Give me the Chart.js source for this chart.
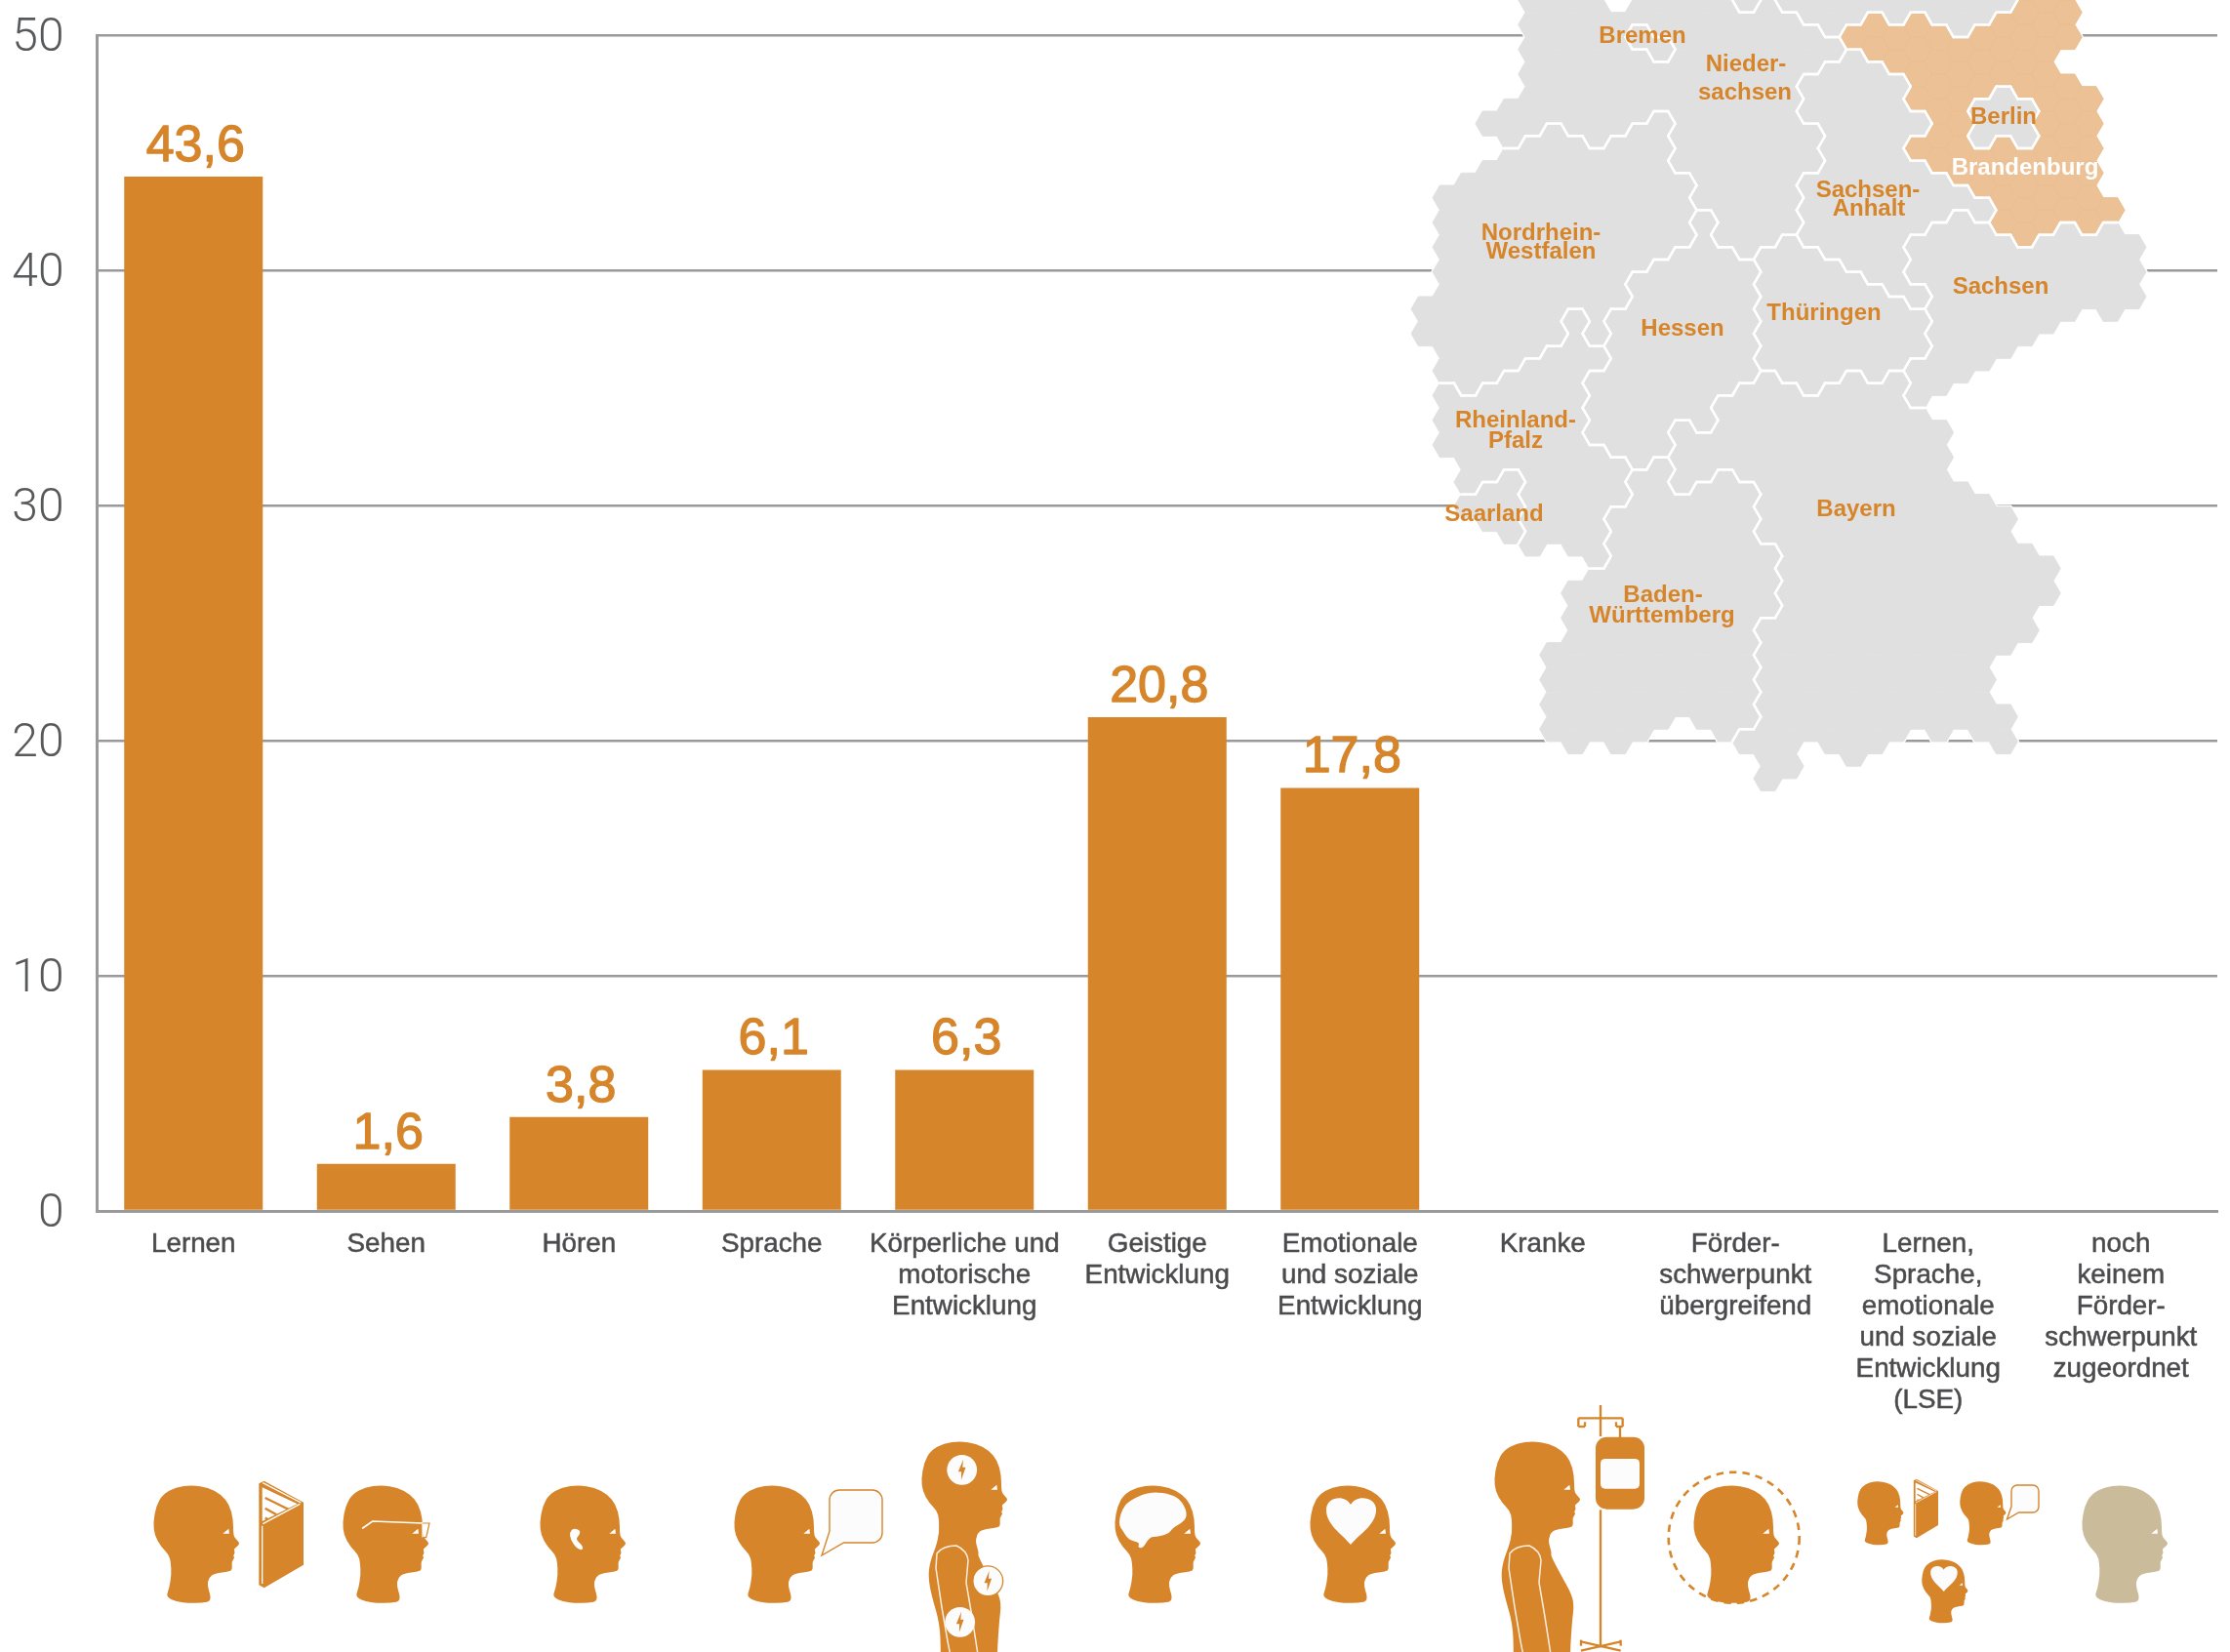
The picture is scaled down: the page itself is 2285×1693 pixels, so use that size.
<!DOCTYPE html>
<html lang="de">
<head>
<meta charset="utf-8">
<title>Förderschwerpunkte Brandenburg</title>
<script src="https://cdn.jsdelivr.net/npm/chart.js@4"></script>
<style>html,body{margin:0;padding:0;background:#fff}canvas{display:block}</style>
</head>
<body>
<canvas id="c" width="2285" height="1693"></canvas>
<script>
const categories = [
  ['Lernen'],
  ['Sehen'],
  ['Hören'],
  ['Sprache'],
  ['Körperliche und', 'motorische', 'Entwicklung'],
  ['Geistige', 'Entwicklung'],
  ['Emotionale', 'und soziale', 'Entwicklung'],
  ['Kranke'],
  ['Förder-', 'schwerpunkt', 'übergreifend'],
  ['Lernen,', 'Sprache,', 'emotionale', 'und soziale', 'Entwicklung', '(LSE)'],
  ['noch', 'keinem', 'Förder-', 'schwerpunkt', 'zugeordnet']
];
const barValues = [44, 2, 4, 6, 6, 21, 18, null, null, null, null];
const valueLabels = ['43,6', '1,6', '3,8', '6,1', '6,3', '20,8', '17,8', '', '', '', ''];
const yTicks = [0, 10, 20, 30, 40, 50];

/* hex map of Germany: one string per hex column, state letter + row range */
const mapColumns = [
  'N12-13',
  'N8-15 R16-18',
  'N7-15 R16-19 L20',
  'A5 N7-15 R16-19 L20-21',
  'A4-5 N6-14 R15-18 L19-21',
  'A0-5 N6-14 R15-22',
  'A0-4 N5-13 R14-21 W26-29',
  'A0-5 N6-12 R13-22 W24-30',
  'A0-5 N6-13 R14 H15-17 R18-22 W23-29',
  'A1-5 N6-12 H13-18 R19-20 W21-30',
  'A0 B1 A2-4 N5-10 H11-18 W19-29',
  'A0-1 B2 A3-4 N5-10 H11-18 W19-29',
  'A0-6 N7-9 H10-16 Y17-19 W20-28',
  'A0-8 H9-17 Y18-19 W20-29',
  'A0-9 H10-15 Y16-18 W19-29',
  'M0 A1-10 H11-15 Y16-19 W20-29 Y30',
  'A0-9 T10-14 Y15-21 W22-24 Y25-31',
  'M0 A1-9 T10-15 Y16-31',
  'M0 A1-2 X3-4 A5-6 X7-9 T10-15 Y16-29',
  'M0-1 A2 X3-10 T11-15 Y16-30',
  'M0 O1 X2-10 T11-14 Y15-30',
  'M0 O1-2 X3-11 T12-15 Y16-30',
  'M0 O1-2 X3-11 T12-14 Y15-29',
  'M0 O1-4 X5 O6 X7-9 G10-11 X12 T13-14 G15-16 Y17-29',
  'M0 O1-6 X7-8 G9-15 Y17-29',
  'M0-1 O2-7 X8 G9-15 Y20-29',
  'M0 O1-3 E4-5 O6-7 X8 G9-14 Y20-29',
  'M0 O1-3 E4-5 O6-9 G10-14 Y21-26 Y29-30',
  'O0-3 E4-5 O6-9 G10-13 Y22-25',
  'O0-9 G10-13 Y23-24',
  'O0-1 O3-8 G9-12',
  'O4-9 G10-12',
  'O8 G9-12',
  'G10-12'
];
const mapLabels = [
  ['Bremen', 1683, 43.7], ['Nieder-', 1789, 73.4], ['sachsen', 1788, 102.4],
  ['Nordrhein-', 1579, 245.7], ['Westfalen', 1579, 264.7], ['Hessen', 1724, 343.7],
  ['Thüringen', 1869, 327.7], ['Sachsen-', 1914, 202.4], ['Anhalt', 1915, 221.4],
  ['Berlin', 2053, 127.4], ['Sachsen', 2050, 300.7],
  ['Rheinland-', 1553, 438.4], ['Pfalz', 1553, 459], ['Saarland', 1531, 534],
  ['Baden-', 1704, 617.4], ['Württemberg', 1703, 638], ['Bayern', 1902, 528.7]
];

const ORANGE = '#d6852a', TICK = '#58595b', CAT = '#4b4b4d', GRID = '#9a9a9a', TAN = '#cabb9b';

/* ---------- hex map ---------- */
const HX0 = 1460.7, HDX = 21.93, HR = 14.62, HDY = 25.33;
const cells = new Map();
mapColumns.forEach((s, c) => s.split(' ').forEach(t => {
  const st = t[0], p = t.slice(1).split('-').map(Number), a = p[0], b = p.length > 1 ? p[1] : p[0];
  for (let r = a; r <= b; r++) cells.set(c + ',' + r, st);
}));
function hexCenter(c, r) { return [HX0 + HDX * c, c % 2 === 0 ? HDY / 2 + HDY * r : HDY * r]; }
function hexPts(c, r) {
  const [x, y] = hexCenter(c, r), h = HDY / 2;
  return [[x + HR, y], [x + HR / 2, y + h], [x - HR / 2, y + h], [x - HR, y], [x - HR / 2, y - h], [x + HR / 2, y - h]];
}
function neighbours(c, r) {
  const e = c % 2 === 0;
  return [[c + 1, e ? r + 1 : r], [c, r + 1], [c - 1, e ? r + 1 : r], [c - 1, e ? r : r - 1], [c, r - 1], [c + 1, e ? r : r - 1]];
}
function tracePoly(ctx, pts) {
  ctx.beginPath();
  pts.forEach((p, i) => i ? ctx.lineTo(p[0], p[1]) : ctx.moveTo(p[0], p[1]));
  ctx.closePath();
}
function drawMap(ctx) {
  ctx.save();
  ctx.lineJoin = 'round';
  cells.forEach((st, k) => {
    const [c, r] = k.split(',').map(Number);
    tracePoly(ctx, hexPts(c, r));
    ctx.strokeStyle = '#fff'; ctx.lineWidth = 3.5; ctx.stroke();
  });
  cells.forEach((st, k) => {
    const [c, r] = k.split(',').map(Number);
    tracePoly(ctx, hexPts(c, r));
    ctx.fillStyle = st === 'O' ? '#ebc195' : '#e0e0e0';
    ctx.fill();
    ctx.strokeStyle = st === 'O' ? '#e9bf92' : '#e1e1e1'; ctx.lineWidth = 1; ctx.stroke();
  });
  ctx.strokeStyle = '#fff'; ctx.lineWidth = 2.4; ctx.lineCap = 'round';
  cells.forEach((st, k) => {
    const [c, r] = k.split(',').map(Number), pts = hexPts(c, r);
    neighbours(c, r).forEach((n, i) => {
      const o = cells.get(n[0] + ',' + n[1]);
      if (o && o !== st) {
        ctx.beginPath();
        ctx.moveTo(pts[i][0], pts[i][1]);
        const q = pts[(i + 1) % 6];
        ctx.lineTo(q[0], q[1]);
        ctx.stroke();
      }
    });
  });
  ctx.font = 'bold 24px "Liberation Sans"';
  ctx.textAlign = 'center';
  ctx.textBaseline = 'alphabetic';
  ctx.fillStyle = ORANGE;
  mapLabels.forEach(l => ctx.fillText(l[0], l[1], l[2]));
  ctx.fillStyle = '#fff';
  ctx.fillText('Brandenburg', 2075, 179);
  ctx.restore();
}

/* ---------- pictograms ---------- */
const headPts = [
  [90,530],[100,505],[107,460],[105,425],[100,400],[75,375],[55,340],[51,300],[60,250],[80,215],[120,192],[170,186],
  [220,193],[260,215],[285,245],[297,290],[297,340],[305,352],[318,365],[306,378],[298,382],[303,395],[296,403],[302,409],
  [292,420],[294,445],[285,452],[240,457],[222,470],[217,495],[232,542],[200,548],[160,549],[125,545]
].map(p => [(p[0] - 51) / 3, (p[1] - 186) / 3]);
function smoothPath(pts) {
  const P = new Path2D(), n = pts.length;
  const mid = (a, b) => [(a[0] + b[0]) / 2, (a[1] + b[1]) / 2];
  const s = mid(pts[n - 1], pts[0]);
  P.moveTo(s[0], s[1]);
  for (let i = 0; i < n; i++) {
    const m = mid(pts[i], pts[(i + 1) % n]);
    P.quadraticCurveTo(pts[i][0], pts[i][1], m[0], m[1]);
  }
  P.closePath();
  return P;
}
const headPath = smoothPath(headPts);
const brainPath = smoothPath([[5,34.7],[7.7,25.3],[14.3,16.3],[34.3,7.3],[54.3,8],[67.7,14.7],[74.3,27.3],[72.7,36.3],[59.3,44],[56,49.7],[44.3,53],[36,53],[29.3,64.7],[23.7,64],[26,58.7],[14.3,56.3],[7.7,45.3],[5,42]]);
const earPath = smoothPath([[35,44],[41.7,46.3],[40.7,51.3],[36.7,55.3],[44,62],[44.3,66.7],[38.3,65.3],[31.7,56.3],[30.7,48]]);
const torsoPts = [[17.7,73],[18.7,86.7],[17,103],[9,123],[7,140],[11,160],[19,187],[20,217],[20,250],[78,250],[77.7,217],[80,183],[81.7,170],[80,158],[69,138],[57.7,117],[55,103],[59,90.7],[40,80]];
function heart(ctx) {
  ctx.fillStyle = '#fcfcfc';
  ctx.beginPath();
  ctx.moveTo(42, 61);
  ctx.bezierCurveTo(33, 50, 16, 40, 17, 24);
  ctx.bezierCurveTo(18, 12, 36, 9, 42, 20);
  ctx.bezierCurveTo(48, 9, 67, 12, 68, 24);
  ctx.bezierCurveTo(69, 40, 51, 50, 42, 61);
  ctx.fill();
}
function head(ctx, x, y, s, color, inner) {
  ctx.save();
  ctx.translate(x, y);
  ctx.scale(s, s);
  ctx.fillStyle = color;
  ctx.fill(headPath);
  ctx.fillStyle = '#fff';
  tracePoly(ctx, [[71.3,49.7],[77.3,44.7],[78,49.7]]);
  ctx.fill();
  if (inner) inner(ctx);
  ctx.restore();
}
function book(ctx, x, y, s) {
  ctx.save();
  ctx.translate(x, y);
  ctx.scale(s / 3, s / 3);
  ctx.translate(-375, -175);
  ctx.fillStyle = ORANGE;
  tracePoly(ctx, [[376,182],[392,174],[513,240],[513,432],[392,503],[376,494]]);
  ctx.fill();
  ctx.fillStyle = '#fff';
  tracePoly(ctx, [[386,194],[494,245],[386,298]]);
  ctx.fill();
  ctx.strokeStyle = ORANGE; ctx.lineWidth = 7;
  [[395,226,468,262],[395,258,430,278],[395,288,410,295]].forEach(l => {
    ctx.beginPath(); ctx.moveTo(l[0], l[1]); ctx.lineTo(l[2], l[3]); ctx.stroke();
  });
  ctx.strokeStyle = '#fff'; ctx.lineWidth = 4;
  ctx.beginPath(); ctx.moveTo(388, 306); ctx.lineTo(502, 245); ctx.stroke();
  ctx.beginPath(); ctx.moveTo(386, 312); ctx.lineTo(386, 490); ctx.stroke();
  ctx.beginPath(); ctx.moveTo(388, 180); ctx.lineTo(505, 241); ctx.stroke();
  ctx.restore();
}
function bubble(ctx, l, t, r, b, rad, tx, ty) {
  ctx.save();
  ctx.fillStyle = '#fcfcfc';
  ctx.strokeStyle = ORANGE;
  ctx.lineWidth = 1.4;
  ctx.beginPath();
  ctx.moveTo(l + rad, t);
  ctx.arcTo(r, t, r, b, rad);
  ctx.arcTo(r, b, l, b, rad);
  ctx.lineTo(l + (r - l) * 0.27, b);
  ctx.lineTo(tx, ty);
  ctx.lineTo(l, b - (b - t) * 0.22);
  ctx.arcTo(l, t, r, t, rad);
  ctx.closePath();
  ctx.fill();
  ctx.stroke();
  ctx.restore();
}
function bolt(ctx, x, y, ring) {
  ctx.save();
  ctx.fillStyle = '#fcfcfc';
  ctx.beginPath();
  ctx.arc(x, y, 15.4, 0, Math.PI * 2);
  ctx.fill();
  if (ring) { ctx.strokeStyle = ORANGE; ctx.lineWidth = 1.3; ctx.stroke(); }
  ctx.fillStyle = ORANGE;
  tracePoly(ctx, [[x + 1.3, y - 10.5], [x - 3.8, y + 2], [x - 0.6, y + 2], [x - 0.8, y + 10.5], [x + 3.8, y - 2.5], [x + 0.6, y - 2.5]]);
  ctx.fill();
  ctx.restore();
}
function figure(ctx, x, y) {
  ctx.save();
  ctx.translate(x, y);
  ctx.fillStyle = ORANGE;
  ctx.fill(smoothPath(torsoPts));
  ctx.restore();
  head(ctx, x, y, 1, ORANGE);
  ctx.save();
  ctx.translate(x, y);
  ctx.strokeStyle = '#fbeede';
  ctx.lineWidth = 1.5;
  ctx.beginPath();
  ctx.moveTo(31, 225);
  ctx.lineTo(27, 205);
  ctx.lineTo(21, 170);
  ctx.lineTo(15, 130);
  ctx.lineTo(16, 115);
  ctx.quadraticCurveTo(22, 107, 36, 107);
  ctx.quadraticCurveTo(47, 112, 48, 122);
  ctx.lineTo(46, 145);
  ctx.lineTo(52, 180);
  ctx.lineTo(59, 225);
  ctx.stroke();
  ctx.restore();
}
function ivStand(ctx) {
  ctx.save();
  ctx.translate(1500, 1430);
  ctx.scale(1 / 3, 1 / 3);
  ctx.strokeStyle = ORANGE;
  ctx.fillStyle = ORANGE;
  ctx.lineWidth = 7;
  const seg = (a, b, c, d) => { ctx.beginPath(); ctx.moveTo(a, b); ctx.lineTo(c, d); ctx.stroke(); };
  seg(420, 30, 420, 126);
  seg(420, 352, 420, 775);
  seg(352, 70, 488, 70);
  seg(352, 70, 352, 96); seg(352, 96, 372, 96); seg(372, 96, 372, 82);
  seg(488, 70, 488, 96); seg(488, 96, 468, 96); seg(468, 96, 468, 82);
  seg(480, 96, 480, 130);
  seg(360, 757, 482, 785); seg(360, 785, 482, 757);
  seg(360, 752, 360, 770); seg(482, 752, 482, 770);
  ctx.beginPath(); ctx.roundRect(405, 128, 150, 222, 34); ctx.fill();
  ctx.fillStyle = '#fcfcfc';
  ctx.beginPath(); ctx.roundRect(420, 195, 120, 92, 14); ctx.fill();
  ctx.restore();
}
function drawIcons(ctx) {
  head(ctx, 157, 1522, 1, ORANGE);
  book(ctx, 265, 1518, 1);
  head(ctx, 351, 1522, 1, ORANGE, c => {
    c.strokeStyle = '#fff'; c.lineWidth = 1.7; c.lineCap = 'round';
    c.beginPath(); c.moveTo(20.7, 44); c.lineTo(30.7, 37); c.lineTo(82.5, 39); c.stroke();
    c.strokeStyle = ORANGE; c.lineWidth = 1.2;
    c.beginPath(); c.moveTo(82.5, 39); c.lineTo(89, 39); c.lineTo(85.7, 53.7); c.lineTo(82.5, 53.7); c.stroke();
    c.strokeStyle = '#fff'; c.lineWidth = 1.2;
    c.beginPath(); c.moveTo(82, 40); c.lineTo(82, 53); c.stroke();
  });
  head(ctx, 553, 1522, 1, ORANGE, c => { c.fillStyle = '#fff'; c.fill(earPath); });
  head(ctx, 752, 1522, 1, ORANGE);
  bubble(ctx, 850, 1527, 904, 1581, 10, 842, 1594);
  figure(ctx, 944, 1477);
  bolt(ctx, 985.7, 1506.3, false);
  bolt(ctx, 1012.3, 1620.3, true);
  bolt(ctx, 983.7, 1662.3, false);
  head(ctx, 1142, 1522, 1, ORANGE, c => { c.fillStyle = '#fcfcfc'; c.fill(brainPath); });
  head(ctx, 1342, 1522, 1, ORANGE, heart);
  figure(ctx, 1531, 1477);
  ivStand(ctx);
  ctx.save();
  ctx.strokeStyle = ORANGE; ctx.lineWidth = 2.6; ctx.setLineDash([7.5, 6]);
  ctx.beginPath(); ctx.arc(1776.7, 1575.7, 67, 0, Math.PI * 2); ctx.stroke();
  ctx.restore();
  head(ctx, 1735, 1522, 1, ORANGE);
  head(ctx, 1903, 1518, 0.54, ORANGE);
  book(ctx, 1960.7, 1516, 0.55);
  head(ctx, 2008, 1518, 0.54, ORANGE);
  bubble(ctx, 2061, 1522, 2089, 1550, 6, 2056.5, 1557);
  head(ctx, 1969, 1598, 0.54, ORANGE, heart);
  head(ctx, 2133, 1522, 1, TAN);
}

const decorPlugin = {
  id: 'decor',
  beforeDraw(chart) {
    /* nudge the light y tick labels onto the gridlines' optical centre */
    const items = chart.scales.y.getLabelItems();
    if (!items.nudged) {
      items.forEach(it => { it.options.translation = [it.options.translation[0], it.options.translation[1] + 3.6]; });
      items.nudged = true;
    }
  },
  afterDraw(chart) {
    const ctx = chart.ctx;
    drawMap(ctx);
    const meta = chart.getDatasetMeta(0);
    ctx.save();
    ctx.font = '52px "Liberation Sans"';
    ctx.fillStyle = ORANGE;
    ctx.strokeStyle = ORANGE;
    ctx.lineWidth = 1.3;
    ctx.lineJoin = 'round';
    ctx.textAlign = 'center';
    ctx.textBaseline = 'alphabetic';
    meta.data.forEach((bar, i) => {
      if (valueLabels[i]) {
        ctx.fillText(valueLabels[i], bar.x + 2, bar.y - 16);
        ctx.strokeText(valueLabels[i], bar.x + 2, bar.y - 16);
      }
    });
    ctx.restore();
    drawIcons(ctx);
  }
};

new Chart(document.getElementById('c'), {
  type: 'bar',
  data: {
    labels: categories,
    datasets: [{
      data: barValues,
      backgroundColor: ORANGE,
      borderWidth: 0,
      categoryPercentage: 1,
      barPercentage: 0.719
    }]
  },
  options: {
    responsive: false,
    animation: false,
    devicePixelRatio: 1,
    layout: { autoPadding: false, padding: { top: 36.5, right: 13, left: 0, bottom: 0 } },
    plugins: { legend: { display: false }, tooltip: { enabled: false }, title: { display: false } },
    scales: {
      x: {
        grid: { display: false, drawTicks: false },
        border: { color: GRID, width: 3 },
        ticks: {
          autoSkip: false, maxRotation: 0, minRotation: 0,
          padding: 18, color: CAT,
          textStrokeColor: CAT, textStrokeWidth: 0.5,
          font: { family: '"Liberation Sans"', size: 27.8, lineHeight: '32px' }
        },
        afterFit(a) { a.height = 452; a.paddingLeft = 0; a.paddingRight = 0; }
      },
      y: {
        min: 0, max: 50,
        afterBuildTicks(a) { a.ticks = yTicks.map(v => ({ value: v })); },
        grid: { color: GRID, lineWidth: 2.5, drawTicks: false },
        border: { color: GRID, width: 3 },
        ticks: {
          padding: 34, color: TICK,
          font: { family: 'Roboto', weight: 300, size: 48 }
        },
        afterFit(a) { a.width = 99.5; a.paddingTop = 0; a.paddingBottom = 0; }
      }
    }
  },
  plugins: [decorPlugin]
});
</script>
</body>
</html>
